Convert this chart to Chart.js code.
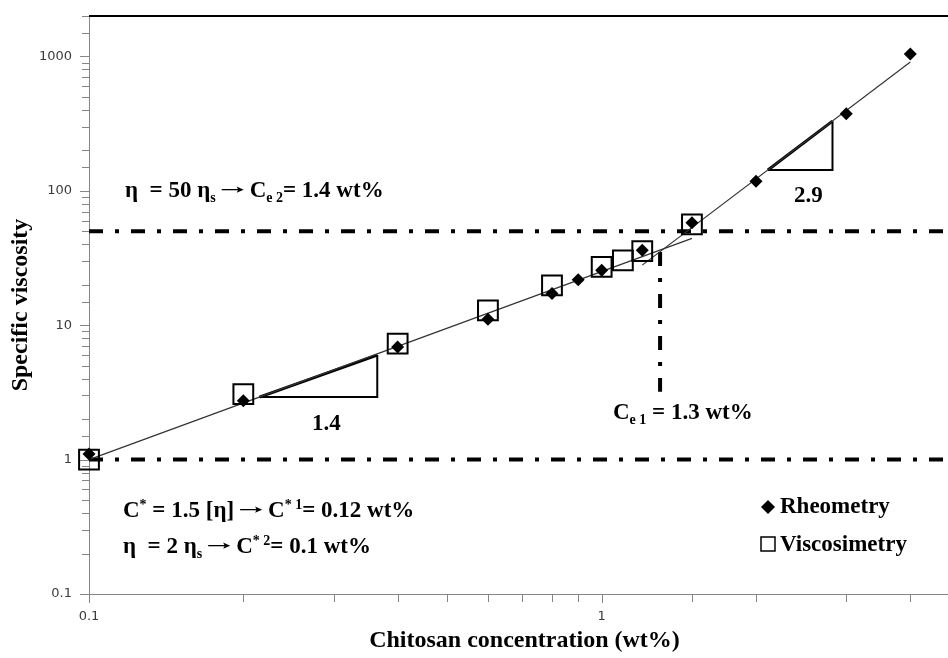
<!DOCTYPE html>
<html>
<head>
<meta charset="utf-8">
<title>Specific viscosity of chitosan solutions</title>
<script src="https://cdn.jsdelivr.net/npm/chart.js@4.4.1/dist/chart.umd.min.js"></script>
<style>
  html, body { margin: 0; padding: 0; background: #fff; overflow: hidden; }
  #wrap { width: 976px; height: 658px; }
</style>
</head>
<body>
<div id="wrap"><canvas id="chart" width="976" height="658"></canvas></div>
<script>
// Rheometry measurements (wt%, specific viscosity)
const rheoConc = [0.1, 0.2, 0.4, 0.6, 0.8, 0.9, 1.0, 1.2, 1.5, 2.0, 3.0, 4.0];
const rheoVisc = [1.1, 2.74, 6.9, 11.1, 17.2, 21.8, 25.6, 36.2, 57.8, 118, 375, 1045];

// Capillary viscosimetry measurements
const viscoConc = [0.1, 0.2, 0.4, 0.6, 0.8, 1.0, 1.1, 1.2, 1.5];
const viscoVisc = [1.0, 3.07, 7.3, 12.9, 19.8, 27.2, 30.4, 35.6, 56.2];

// Power-law fits: semi-dilute (slope 1.4) and concentrated (slope 2.9) regimes
const fitDiluteConc = [0.1, 1.5];
const fitDiluteVisc = [1.0, 44.3];
const fitConcConc = [1.2, 4.0];
const fitConcVisc = [28, 910];

// Slope triangles (closed paths: hypotenuse first, then the two legs)
const tri1Conc = [0.215, 0.365, 0.365, 0.215];
const tri1Visc = [2.92, 6.0, 2.92, 2.92];
const tri2Conc = [2.11, 2.82, 2.82, 2.11];
const tri2Visc = [143, 330, 143, 143];

// Reference levels: eta_sp = 1 (C*) and eta_sp = 50 (Ce2), and Ce1 = 1.3 wt%
const axisConcRange = [0.1, 5];
const axisViscRange = [0.1, 2000];
const levelCStar = 1;
const levelCe2 = 50;
const ce1Conc = 1.3;
const ce1ViscRange = [35, 3.2];

// Tick labels shown on the decades
const xTickLabels = ['0.1', '1'];
const yTickLabels = ['0.1', '1', '10', '100', '1000'];

const pts = (xs, ys) => xs.map((x, i) => ({ x, y: ys[i] }));
const labelFor = list => v => {
  const hit = list.find(l => Math.abs(Number(l) - v) < 1e-9 * Math.max(1, v));
  return hit === undefined ? '' : hit;
};

const SERIF = '"Liberation Serif", "Times New Roman", serif';
const dashDot = [14, 12, 4, 12];

// Draw text made of normal / subscript / superscript runs and arrows
function drawRich(ctx, x, y, parts, size) {
  for (const p of parts) {
    if (p.arrow) {
      const x0 = x + 6, x1 = x + 6 + p.arrow, ay = y - size * 0.32;
      ctx.save();
      ctx.lineWidth = 1.3;
      ctx.beginPath();
      ctx.moveTo(x0, ay);
      ctx.lineTo(x1 - 4, ay);
      ctx.stroke();
      ctx.beginPath();
      ctx.moveTo(x1, ay);
      ctx.lineTo(x1 - 7, ay - 3.2);
      ctx.lineTo(x1 - 5.5, ay);
      ctx.lineTo(x1 - 7, ay + 3.2);
      ctx.closePath();
      ctx.fill();
      ctx.restore();
      x += p.arrow + 12;
      continue;
    }
    const small = p.sub || p.sup;
    const s = small ? Math.round(size * 0.62) : size;
    ctx.font = `bold ${s}px ${SERIF}`;
    const dy = p.sub ? size * 0.2 : (p.sup ? -size * 0.36 : 0);
    ctx.fillText(p.t, x, y + dy);
    x += ctx.measureText(p.t).width;
  }
}

const annotations = [
  { x: 125, y: 197, parts: [{ t: 'η  = 50 η' }, { t: 's', sub: 1 }, { arrow: 22 }, { t: 'C' }, { t: 'e 2', sub: 1 }, { t: '= 1.4 wt%' }] },
  { x: 613, y: 419, parts: [{ t: 'C' }, { t: 'e 1', sub: 1 }, { t: ' = 1.3 wt%' }] },
  { x: 123, y: 517, parts: [{ t: 'C' }, { t: '*', sup: 1 }, { t: ' = 1.5 [η]' }, { arrow: 22 }, { t: 'C' }, { t: '* 1', sup: 1 }, { t: '= 0.12 wt%' }] },
  { x: 123, y: 553, parts: [{ t: 'η  = 2 η' }, { t: 's', sub: 1 }, { arrow: 22 }, { t: 'C' }, { t: '* 2', sup: 1 }, { t: '= 0.1 wt%' }] },
  { x: 312, y: 430, parts: [{ t: '1.4' }] },
  { x: 794, y: 202, parts: [{ t: '2.9' }] }
];

const decorPlugin = {
  id: 'decor',
  afterDraw(chart) {
    const { ctx, chartArea: a, scales } = chart;
    ctx.save();
    // frame top line
    ctx.strokeStyle = '#000';
    ctx.lineWidth = 2;
    ctx.beginPath();
    ctx.moveTo(a.left, a.top);
    ctx.lineTo(a.right, a.top);
    ctx.stroke();

    // outward tick marks on both log axes
    ctx.strokeStyle = '#868686';
    ctx.lineWidth = 1;
    const isDecade = v => Math.abs(Math.log10(v) - Math.round(Math.log10(v))) < 1e-9;
    ctx.beginPath();
    for (const t of scales.y.ticks) {
      const py = Math.round(scales.y.getPixelForValue(t.value)) + 0.5;
      const len = isDecade(t.value) ? 9 : 7;
      ctx.moveTo(a.left - len, py);
      ctx.lineTo(a.left, py);
    }
    for (const t of scales.x.ticks) {
      const px = Math.round(scales.x.getPixelForValue(t.value)) + 0.5;
      const len = isDecade(t.value) ? 9 : 8;
      ctx.moveTo(px, a.bottom);
      ctx.lineTo(px, a.bottom + len);
    }
    ctx.stroke();

    // annotations
    ctx.fillStyle = '#000';
    ctx.strokeStyle = '#000';
    ctx.textBaseline = 'alphabetic';
    ctx.textAlign = 'left';
    for (const an of annotations) drawRich(ctx, an.x, an.y, an.parts, 23);

    // legend
    const lx = 768;
    ctx.fillStyle = '#000';
    ctx.beginPath();
    ctx.moveTo(lx - 7, 507);
    ctx.lineTo(lx, 500);
    ctx.lineTo(lx + 7, 507);
    ctx.lineTo(lx, 514);
    ctx.closePath();
    ctx.fill();
    ctx.strokeStyle = '#000';
    ctx.lineWidth = 1.5;
    ctx.strokeRect(lx - 7, 537, 14, 14);
    ctx.font = `bold 23px ${SERIF}`;
    ctx.fillText(chart.data.datasets[0].label, 780, 513);
    ctx.fillText(chart.data.datasets[1].label, 780, 551);
    ctx.restore();
  }
};

const lineSet = (data, width, extra = {}) => Object.assign({
  data, showLine: true, pointRadius: 0, borderColor: '#000', borderWidth: width,
  backgroundColor: 'transparent', fill: false, clip: false, order: 3
}, extra);

const zeroPad = s => { s.paddingTop = 0; s.paddingBottom = 0; s.paddingLeft = 0; s.paddingRight = 0; };

new Chart(document.getElementById('chart'), {
  type: 'scatter',
  data: {
    datasets: [
      { label: 'Rheometry', data: pts(rheoConc, rheoVisc), pointStyle: 'rectRot', pointRadius: 6.5,
        backgroundColor: '#000', borderColor: '#000', borderWidth: 0, clip: false, order: 0 },
      { label: 'Viscosimetry', data: pts(viscoConc, viscoVisc), pointStyle: 'rect', pointRadius: 14,
        backgroundColor: 'rgba(0,0,0,0)', borderColor: '#000', borderWidth: 2, clip: false, order: 1 },
      lineSet(pts(fitDiluteConc, fitDiluteVisc), 1.2, { borderColor: '#333', order: 2 }),
      lineSet(pts(fitConcConc, fitConcVisc), 1.2, { borderColor: '#333', order: 2 }),
      lineSet(pts(tri1Conc.slice(0, 2), tri1Visc.slice(0, 2)), 3),
      lineSet(pts(tri1Conc.slice(1), tri1Visc.slice(1)), 2),
      lineSet(pts(tri2Conc.slice(0, 2), tri2Visc.slice(0, 2)), 3),
      lineSet(pts(tri2Conc.slice(1), tri2Visc.slice(1)), 2),
      lineSet(pts(axisConcRange, [levelCe2, levelCe2]), 4, { borderDash: dashDot }),
      lineSet(pts(axisConcRange, [levelCStar, levelCStar]), 4, { borderDash: dashDot }),
      lineSet(pts([ce1Conc, ce1Conc], ce1ViscRange), 4, { borderDash: dashDot })
    ]
  },
  options: {
    responsive: false,
    animation: false,
    devicePixelRatio: 1,
    layout: { padding: { top: 15, right: 0, left: 0, bottom: 0 } },
    plugins: { legend: { display: false }, tooltip: { enabled: false } },
    scales: {
      x: {
        type: 'logarithmic',
        min: axisConcRange[0], max: axisConcRange[1],
        grid: { display: false, drawTicks: false },
        border: { display: true, color: '#868686', width: 1 },
        ticks: { autoSkip: false, maxRotation: 0, padding: 15, color: '#3a3a3a',
          font: { family: '"DejaVu Sans"', size: 13 }, callback: labelFor(xTickLabels) },
        title: { display: true, text: 'Chitosan concentration (wt%)', color: '#000',
          font: { family: SERIF, size: 24, weight: 'bold' }, padding: { top: 0, bottom: 3 } },
        afterFit: s => { s.height = 64; zeroPad(s); }
      },
      y: {
        type: 'logarithmic',
        min: axisViscRange[0], max: axisViscRange[1],
        grid: { display: false, drawTicks: false },
        border: { display: true, color: '#868686', width: 1 },
        ticks: { autoSkip: false, padding: 17, color: '#3a3a3a',
          font: { family: '"DejaVu Sans"', size: 13 }, callback: labelFor(yTickLabels) },
        title: { display: true, text: 'Specific viscosity', color: '#000',
          font: { family: SERIF, size: 24, weight: 'bold' }, padding: { top: 6, bottom: 0 } },
        afterFit: s => { s.width = 89; zeroPad(s); }
      }
    }
  },
  plugins: [decorPlugin]
});
</script>
</body>
</html>
